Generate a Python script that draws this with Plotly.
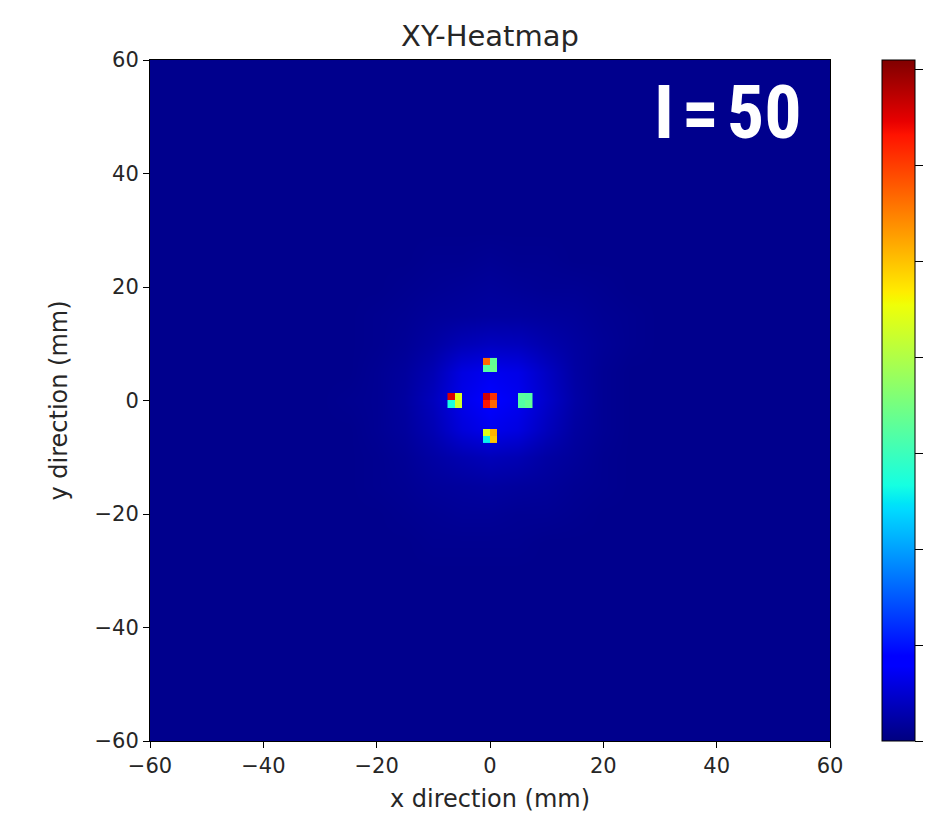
import numpy as np
import plotly.graph_objects as go

# ---------------- data ----------------
zmax = 35.5
cbar_ticks = [0, 5, 10, 15, 20, 25, 30, 35]
axis_ticks = [-60, -40, -20, 0, 20, 40, 60]
axis_ticktext = ["\u221260", "\u221240", "\u221220", "0", "20", "40", "60"]

# diffuse halo, 5 mm grid from -30..30 (rows: y from -30 to 30)
halo_x = [-30, -25, -20, -15, -10, -5, 0, 5, 10, 15, 20, 25, 30]
halo_y = [-30, -25, -20, -15, -10, -5, 0, 5, 10, 15, 20, 25, 30]
halo_z = [
    [0.4, 0.4, 0.4, 0.4, 0.4, 0.4, 0.4, 0.4, 0.4, 0.4, 0.4, 0.4, 0.4],
    [0.4, 0.4, 0.4, 0.4, 0.5, 0.5, 0.5, 0.5, 0.4, 0.4, 0.4, 0.4, 0.4],
    [0.4, 0.4, 0.4, 0.5, 0.6, 0.7, 0.7, 0.6, 0.6, 0.5, 0.4, 0.4, 0.4],
    [0.4, 0.4, 0.5, 0.6, 0.8, 0.9, 1.0, 0.9, 0.8, 0.6, 0.5, 0.4, 0.4],
    [0.4, 0.4, 0.5, 0.7, 1.1, 1.5, 1.8, 1.6, 1.1, 0.8, 0.5, 0.4, 0.4],
    [0.4, 0.4, 0.6, 0.9, 1.6, 2.8, 3.4, 3.0, 1.9, 1.0, 0.6, 0.4, 0.4],
    [0.4, 0.5, 0.6, 1.0, 1.9, 3.3, 4.0, 3.5, 2.3, 1.2, 0.6, 0.4, 0.4],
    [0.4, 0.4, 0.6, 0.9, 1.6, 3.0, 3.5, 3.2, 2.1, 1.1, 0.6, 0.4, 0.4],
    [0.4, 0.4, 0.5, 0.7, 1.1, 1.7, 2.0, 1.9, 1.4, 1.0, 0.7, 0.5, 0.4],
    [0.4, 0.4, 0.5, 0.6, 0.8, 0.9, 1.0, 1.0, 0.9, 0.8, 0.6, 0.5, 0.4],
    [0.4, 0.4, 0.4, 0.5, 0.6, 0.7, 0.8, 0.7, 0.6, 0.6, 0.5, 0.4, 0.4],
    [0.4, 0.4, 0.4, 0.4, 0.5, 0.5, 0.6, 0.5, 0.5, 0.4, 0.4, 0.4, 0.4],
    [0.4, 0.4, 0.4, 0.4, 0.4, 0.4, 0.4, 0.4, 0.4, 0.4, 0.4, 0.4, 0.4],
]
background_level = 0.4

# bright spots (centre in mm), each 2x2 bins of 1.25 mm: [top-left, top-right, bottom-left, bottom-right]
spot_cx = [0.0, 0.0, -6.25, 6.25, 0.0]
spot_cy = [0.0, 6.25, 0.0, 0.0, -6.25]
spot_quads = [
    [33.0, 30.5, 31.6, 28.4],
    [28.4, 16.7, 16.0, 17.0],
    [32.7, 22.0, 13.5, 21.3],
    [16.3, 16.0, 16.0, 16.7],
    [22.0, 25.6, 12.8, 24.9],
]
bin_size = 1.25

# ---------------- colours (matplotlib jet) ----------------
jet_r = [(0, 0), (0.35, 0), (0.66, 1), (0.89, 1), (1, 0.5)]
jet_g = [(0, 0), (0.125, 0), (0.375, 1), (0.64, 1), (0.91, 0), (1, 0)]
jet_b = [(0, 0.5), (0.11, 1), (0.34, 1), (0.65, 0), (1, 0)]


def seg(points, t):
    xs = [p[0] for p in points]
    ys = [p[1] for p in points]
    return float(np.interp(t, xs, ys))


def jet(t):
    return "rgb(%d,%d,%d)" % (round(255 * seg(jet_r, t)), round(255 * seg(jet_g, t)), round(255 * seg(jet_b, t)))


stops = sorted(set([0, 0.11, 0.125, 0.34, 0.35, 0.375, 0.64, 0.65, 0.66, 0.89, 0.91, 1.0]
                   + list(np.linspace(0, 1, 21))))
jet_scale = [[float(s), jet(s)] for s in stops]

# spot grid
grid_c = np.arange(-6.875, 6.876, bin_size)
spot_grid = [[None] * len(grid_c) for _ in grid_c]
for cx, cy, q in zip(spot_cx, spot_cy, spot_quads):
    offs = [(-0.625, 0.625), (0.625, 0.625), (-0.625, -0.625), (0.625, -0.625)]
    for (dx, dy), v in zip(offs, q):
        ix = int(round((cx + dx - grid_c[0]) / bin_size))
        iy = int(round((cy + dy - grid_c[0]) / bin_size))
        spot_grid[iy][ix] = v

fig = go.Figure()
fig.add_trace(go.Heatmap(x=halo_x, y=halo_y, z=halo_z, zsmooth="best",
                         coloraxis="coloraxis", hoverinfo="skip"))
fig.add_trace(go.Heatmap(x=grid_c, y=grid_c, z=spot_grid, zsmooth=False,
                         coloraxis="coloraxis"))

# page body has an 8px margin; figure coordinates below are relative to the figure
OFF = 8
W, H = 936 - OFF, 813 - OFF
L, R, T, B = 150 - OFF, 830 - OFF, 60 - OFF, 741 - OFF
text_col = "#262626"
font_fam = "DejaVu Sans, sans-serif"

fig.update_layout(
    width=W, height=H,
    margin=dict(l=L, r=W - R, t=T, b=H - B, autoexpand=False),
    paper_bgcolor="white",
    plot_bgcolor=jet(background_level / zmax),
    font=dict(family=font_fam, color=text_col, size=21),
    title=dict(text="XY-Heatmap", x=(L + R) / 2 / W, xanchor="center",
               y=1 - (36 - OFF) / H, yanchor="middle",
               font=dict(size=29, color=text_col, family=font_fam)),
    showlegend=False,
    coloraxis=dict(
        colorscale=jet_scale, cmin=0, cmax=zmax,
        colorbar=dict(
            x=(882 - 150) / (830 - 150), xref="paper", xanchor="left",
            y=0.5, yanchor="middle", len=B - T, lenmode="pixels",
            thickness=33, thicknessmode="pixels",
            outlinewidth=1, outlinecolor="black",
            tickvals=cbar_ticks,
            ticks="outside", ticklen=8, tickcolor="black",
            tickfont=dict(size=21, color=text_col), xpad=0, ypad=0,
        ),
    ),
)

fig.update_xaxes(
    range=[-60, 60], tickvals=axis_ticks, ticktext=axis_ticktext,
    ticks="outside", ticklen=6, tickcolor="black", showgrid=False, zeroline=False,
    showline=True, linecolor="black", linewidth=1, mirror=True,
    title=dict(text="x direction (mm)", font=dict(size=24, color=text_col), standoff=16),
    automargin=False,
)
fig.update_yaxes(
    range=[-60, 60], tickvals=axis_ticks, ticktext=axis_ticktext,
    ticks="outside", ticklen=6, tickcolor="black", showgrid=False, zeroline=False,
    showline=True, linecolor="black", linewidth=1, mirror=True,
    title=dict(text="y direction (mm)", font=dict(size=24, color=text_col), standoff=20),
    automargin=False,
)

fig.add_annotation(
    text="<b>I\u200a=\u200a50</b>", xref="paper", yref="paper",
    x=(804 - 150) / (830 - 150), y=1 - (112 - 60) / (741 - 60),
    xanchor="right", yanchor="middle", showarrow=False,
    font=dict(family="Roboto Condensed, Open Sans Condensed, Liberation Sans Narrow, "
                     "DejaVu Sans Condensed, Arial Narrow, DejaVu Sans, sans-serif",
              size=74, color="white"),
)

fig.write_html("out.html")
